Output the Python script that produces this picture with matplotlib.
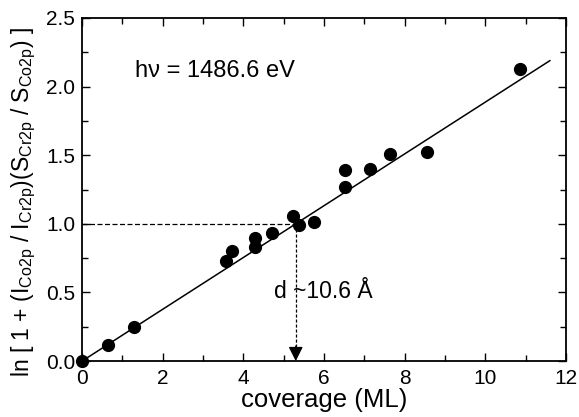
import matplotlib
matplotlib.use("Agg")
from matplotlib import pyplot as plt
from matplotlib.ticker import MultipleLocator, FormatStrFormatter
import numpy as np

plt.rcParams['font.family'] = ['Liberation Sans', 'DejaVu Sans']
plt.rcParams['mathtext.fontset'] = 'custom'
plt.rcParams['mathtext.rm'] = 'Liberation Sans'
plt.rcParams['mathtext.it'] = 'Liberation Sans:italic'

# measured points: coverage (ML) vs log intensity ratio
coverage = [0.0, 0.65, 1.29, 3.57, 3.71, 4.29, 4.29, 4.71, 5.22, 5.39, 5.76,
            6.51, 6.53, 7.15, 7.63, 8.56, 10.85]
ln_ratio = [0.0, 0.12, 0.25, 0.73, 0.80, 0.90, 0.83, 0.93, 1.06, 0.99, 1.01,
            1.39, 1.27, 1.40, 1.51, 1.52, 2.13]

# linear fit through the origin, slope = 1/d
slope = 1.0 / 5.3
fit_x = np.array([0.0, 11.6])
d_x = 5.3

fig = plt.figure(figsize=(5.79, 4.17), dpi=100)
ax = fig.add_axes([0.1416, 0.134, 0.8359, 0.823])

ax.plot(fit_x, slope * fit_x, color='black', lw=1.1, zorder=2)
ax.plot(coverage, ln_ratio, 'o', color='black', ms=8.5, zorder=3, clip_on=False)

ax.plot([0, d_x], [1.0, 1.0], color='black', lw=0.9, ls=(0, (4, 2)))
ax.plot([d_x, d_x], [1.0, 0.09], color='black', lw=0.9, ls=(0, (2.5, 1.5)))
ax.annotate('', xy=(d_x, 0.0), xytext=(d_x, 0.11),
            arrowprops=dict(arrowstyle='-|>', color='black', lw=0.9,
                            mutation_scale=22, shrinkA=0, shrinkB=0))

ax.text(1.31, 2.11, 'h\u03bd = 1486.6 eV', fontsize=17, va='center')
ax.text(4.76, 0.51, 'd ~10.6 \u00c5', fontsize=16.5, va='center')

ax.set_xlim(0, 12)
ax.set_ylim(0, 2.5)
ax.xaxis.set_major_locator(MultipleLocator(2))
ax.xaxis.set_minor_locator(MultipleLocator(1))
ax.yaxis.set_major_locator(MultipleLocator(0.5))
ax.yaxis.set_minor_locator(MultipleLocator(0.25))
ax.yaxis.set_major_formatter(FormatStrFormatter('%.1f'))
ax.tick_params(which='both', direction='in', top=True, right=True, labelsize=15)
ax.tick_params(which='major', length=6, width=1)
ax.tick_params(which='minor', length=4, width=1)
ax.tick_params(axis='x', pad=6)
ax.tick_params(axis='y', pad=5)
for s in ax.spines.values():
    s.set_linewidth(1.3)

ax.set_xlabel('coverage (ML)', fontsize=18.5, labelpad=0)
ax.set_ylabel(r'ln [ 1 + (I$_{\rm Co2p}$ / I$_{\rm Cr2p}$)(S$_{\rm Cr2p}$ / S$_{\rm Co2p}$) ]',
              fontsize=16.5)
ax.yaxis.set_label_coords(-0.09, 0.465)

fig.savefig('out.png', dpi=100)
